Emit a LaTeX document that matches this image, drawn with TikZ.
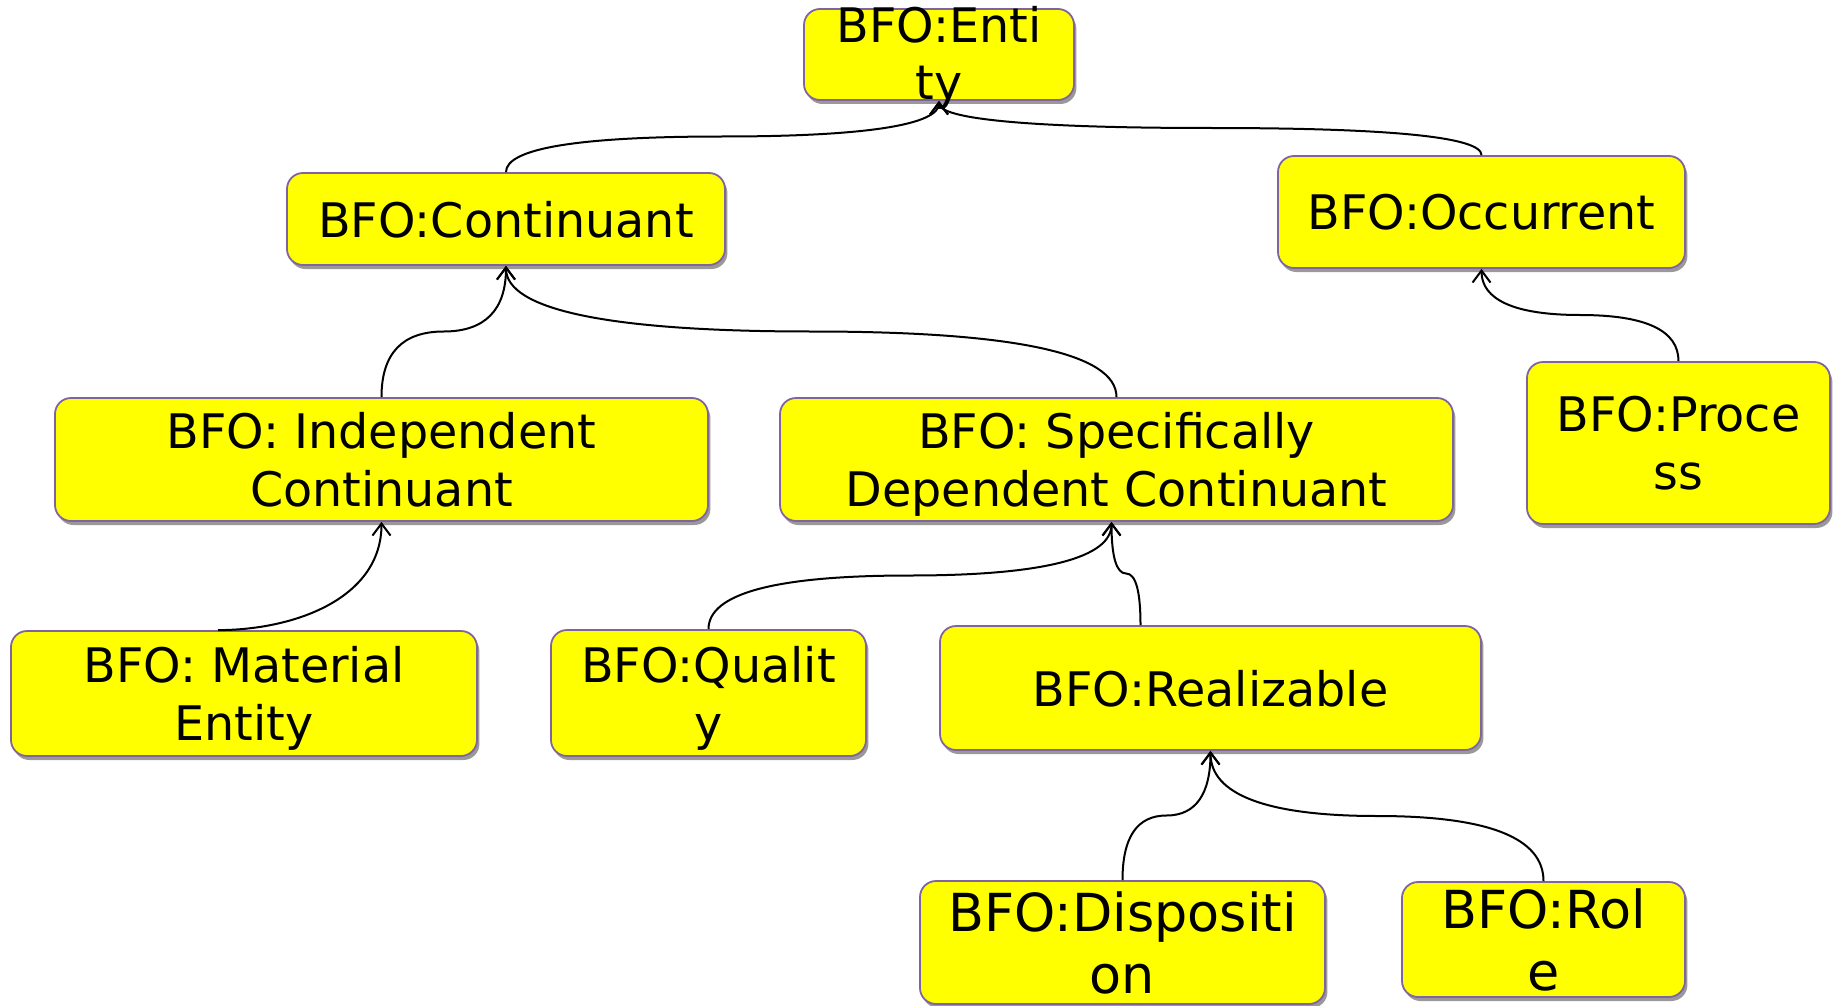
\documentclass[tikz,border=0pt]{standalone}
\usepackage{fontspec}
\setmainfont{DejaVu Sans}
\usetikzlibrary{calc,shadows,arrows.meta}
\definecolor{boxline}{RGB}{128,100,162}
\definecolor{boxfill}{RGB}{255,255,0}
\tikzset{
  bfo/.style={draw=boxline, fill=boxfill, line width=0.9pt, rounded corners=8pt,
    drop shadow={shadow xshift=1.2pt, shadow yshift=-2pt, fill=black!40, opacity=1},
    align=center, inner sep=0pt, text depth=-1pt, font=\fontsize{23.8}{29}\selectfont},
  big/.style={font=\fontsize{26.2}{31}\selectfont},
  arr/.style={-{Straight Barb[length=6pt,width=9pt]}, line width=1pt},
  isa/.style={arr, to path={let \p1=(\tikztostart), \p2=(\tikztotarget) in
    .. controls (\x1,{\y1+(\y2-\y1)/3}) and ({(5*\x1+\x2)/6},{(\y1+\y2)/2})
    .. ({(\x1+\x2)/2},{(\y1+\y2)/2})
    .. controls ({(\x1+5*\x2)/6},{(\y1+\y2)/2}) and (\x2,{\y2-(\y2-\y1)/3})
    .. (\p2) \tikztonodes}},
}
\begin{document}
\begin{tikzpicture}[x=0.5pt,y=-0.5pt]
  \useasboundingbox (0,0) rectangle (1837,1006);

  % top
  \node[bfo, minimum width=135pt, minimum height=45.5pt] (ent) at (939,54.5) {};
  \node[align=center, inner sep=0pt, text depth=-1pt, font=\fontsize{23.8}{28.5}\selectfont] (entlbl) at (939,53) {BFO:Enti\\ty};

  % second level
  \node[bfo, minimum width=219pt, minimum height=46pt] (cont) at (506,219) {BFO:Continuant};
  \node[bfo, minimum width=203.5pt, minimum height=56pt] (occ) at (1481.5,212) {BFO:Occurrent};

  % third level
  \node[bfo, minimum width=326.5pt, minimum height=61.5pt] (ind) at (381.5,459.5) {BFO: Independent\\Continuant};
  \node[bfo, minimum width=336.5pt, minimum height=61.5pt] (sdc) at (1116.5,459.5) {BFO: Specifically\\Dependent Continuant};
  \node[bfo, minimum width=151.5pt, minimum height=81pt] (proc) at (1678.5,443) {BFO:Proce\\ss};

  % fourth level
  \node[bfo, minimum width=233pt, minimum height=62.5pt] (mat) at (244,693.5) {BFO: Material\\Entity};
  \node[bfo, minimum width=157.5pt, minimum height=63pt] (qual) at (708.5,693) {BFO:Qualit\\y};
  \node[bfo, minimum width=270.5pt, minimum height=62pt] (real) at (1210.5,688) {BFO:Realizable};

  % bottom
  \node[bfo, big, minimum width=202.5pt, minimum height=61.5pt] (disp) at (1122.5,942.5) {BFO:Dispositi\\on};
  \node[bfo, big, minimum width=141.5pt, minimum height=57.5pt] (role) at (1543.5,939.5) {BFO:Rol\\e};

  % is-a links
  \draw[isa] (cont.north) to (ent.south);
  \draw[isa] (occ.north) to (ent.south);
  \draw[isa] (ind.north) to (cont.south);
  \draw[isa] (sdc.north) to (cont.south);
  \draw[isa] (proc.north) to (occ.south);
  \draw[arr] ([xshift=-13pt]mat.north) to[out=0,in=-90] (ind.south);
  \draw[isa] (qual.north) to ([xshift=-2.5pt]sdc.south);
  \draw[isa] ([xshift=-35pt]real.north) to ([xshift=-2.5pt]sdc.south);
  \draw[isa] (disp.north) to (real.south);
  \draw[isa] (role.north) to (real.south);
\end{tikzpicture}
\end{document}
